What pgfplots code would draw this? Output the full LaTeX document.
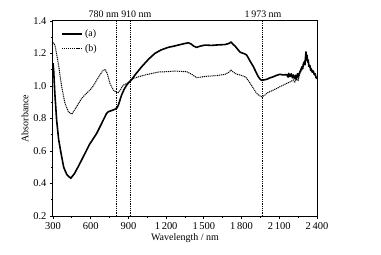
\documentclass[border=0pt]{standalone}
\usepackage{fontspec}
\setmainfont{Liberation Serif}
\usepackage{pgfplots}
\pgfplotsset{compat=1.18}
\begin{document}
\begin{tikzpicture}
\useasboundingbox (-53bp,-39bp) rectangle (328bp,216bp);
\begin{axis}[
  scale only axis,
  width=264bp, height=195bp,
  xmin=300, xmax=2400, ymin=0.2, ymax=1.4,
  xtick={300,600,900,1200,1500,1800,2100,2400},
  xticklabels={300,600,900,1\,200,1\,500,1\,800,2\,100,2\,400},
  ytick={0.2,0.4,0.6,0.8,1.0,1.2,1.4},
  yticklabel style={/pgf/number format/fixed,/pgf/number format/fixed zerofill,/pgf/number format/precision=1},
  /pgf/number format/assume math mode=true,
  minor x tick num=1, minor y tick num=1,
  xtick pos=bottom, ytick pos=left,
  tick align=outside,
  major tick length=3bp, minor tick length=2bp,
  axis line style={line width=1bp},
  every tick/.style={black, line width=0.8bp},
  xlabel={Wavelength / nm}, ylabel={Absorbance},
  xlabel style={yshift=3bp},
  ylabel style={yshift=-2bp},
  tick label style={font=\fontsize{10.5}{12}\selectfont},
  label style={font=\fontsize{10}{12}\selectfont},
  clip=false,
  legend style={draw=none, fill=none, at={(rel axis cs:0.02,0.975)}, anchor=north west,
    font=\fontsize{10}{12}\selectfont, row sep=2bp},
  legend cell align=left,
  legend image code/.code={\draw[#1] (0bp,0bp) -- (20bp,0bp);},
]
\addplot[black, line width=1.6bp, line join=round] coordinates {
(300,1.14)(305,1.10)(315,0.95)(329,0.79)(345,0.67)(364,0.586)(385,0.50)(410,0.455)(441,0.432)
(470,0.46)(505,0.51)(541,0.565)(590,0.64)(648,0.709)(700,0.79)(725,0.83)(740,0.842)(770,0.850)
(793,0.857)(810,0.866)(820,0.883)(846,0.945)(866,0.98)(886,1.006)(910,1.028)(926,1.040)(952,1.068)
(1006,1.119)(1060,1.165)(1111,1.201)(1160,1.222)(1217,1.238)(1260,1.245)(1297,1.252)(1340,1.260)
(1376,1.266)(1400,1.258)(1420,1.245)(1443,1.238)(1470,1.245)(1509,1.252)(1560,1.250)(1615,1.253)
(1668,1.255)(1700,1.262)(1716,1.271)(1730,1.258)(1748,1.246)(1788,1.208)(1827,1.197)(1841,1.190)
(1870,1.150)(1894,1.119)(1915,1.085)(1933,1.057)(1950,1.040)(1960,1.035)(1980,1.038)(2000,1.041)
(2025,1.050)(2053,1.057)(2080,1.066)(2106,1.072)(2130,1.068)(2159,1.070)(2170,1.055)(2175,1.078)
(2185,1.058)(2195,1.075)(2205,1.050)(2212,1.068)(2222,1.045)(2230,1.066)(2235,1.040)(2245,1.075)
(2250,1.055)(2255,1.070)(2265,1.088)(2272,1.100)(2280,1.118)(2286,1.105)(2291,1.135)(2300,1.15)
(2304,1.13)(2308,1.17)(2312,1.21)(2316,1.16)(2320,1.19)(2326,1.15)(2330,1.16)(2336,1.12)
(2344,1.125)(2350,1.095)(2355,1.105)(2362,1.085)(2371,1.092)(2378,1.070)(2385,1.075)(2392,1.052)(2400,1.045)
};
\addlegendentry{(a)}
\addplot[black, line width=1bp, dash pattern=on 1.1bp off 0.8bp] coordinates {
(300,1.263)(305,1.265)(316,1.25)(342,1.14)(369,0.996)(395,0.894)(422,0.842)(449,0.826)(488,0.873)
(528,0.924)(560,0.950)(594,0.975)(620,1.000)(648,1.037)(675,1.070)(700,1.098)(715,1.100)(730,1.080)
(753,1.016)(780,0.975)(801,0.962)(815,0.958)(833,0.972)(846,0.990)(859,1.006)(873,1.010)(886,1.016)
(913,1.026)(926,1.041)(952,1.050)(1032,1.068)(1138,1.086)(1200,1.088)(1270,1.092)(1364,1.088)
(1403,1.072)(1443,1.051)(1500,1.058)(1562,1.062)(1620,1.066)(1668,1.072)(1700,1.085)(1716,1.098)
(1735,1.085)(1761,1.072)(1788,1.068)(1827,1.057)(1841,1.047)(1870,1.015)(1894,0.986)(1915,0.960)
(1933,0.945)(1960,0.934)(1980,0.940)(2000,0.955)(2025,0.965)(2053,0.975)(2080,0.985)(2106,0.996)
(2130,1.005)(2159,1.016)(2185,1.025)(2212,1.037)(2222,1.020)(2235,1.045)(2250,1.035)(2265,1.080)
(2280,1.100)(2291,1.125)(2300,1.145)(2308,1.165)(2314,1.19)(2320,1.16)(2330,1.14)(2344,1.115)
(2360,1.095)(2380,1.075)(2400,1.045)
};
\addlegendentry{(b)}
\addplot[black, line width=0.8bp, densely dotted, forget plot] coordinates {(806,0.2)(806,1.4)};
\addplot[black, line width=0.8bp, densely dotted, forget plot] coordinates {(918,0.2)(918,1.4)};
\addplot[black, line width=0.8bp, densely dotted, forget plot] coordinates {(1962,0.2)(1962,1.4)};
\node[anchor=base, font=\fontsize{10}{12}\selectfont] at (axis cs:833,1.42) {780 nm 910 nm};
\node[anchor=base, font=\fontsize{10}{12}\selectfont] at (axis cs:1971,1.42) {1\,973 nm};
\end{axis}
\end{tikzpicture}
\end{document}
